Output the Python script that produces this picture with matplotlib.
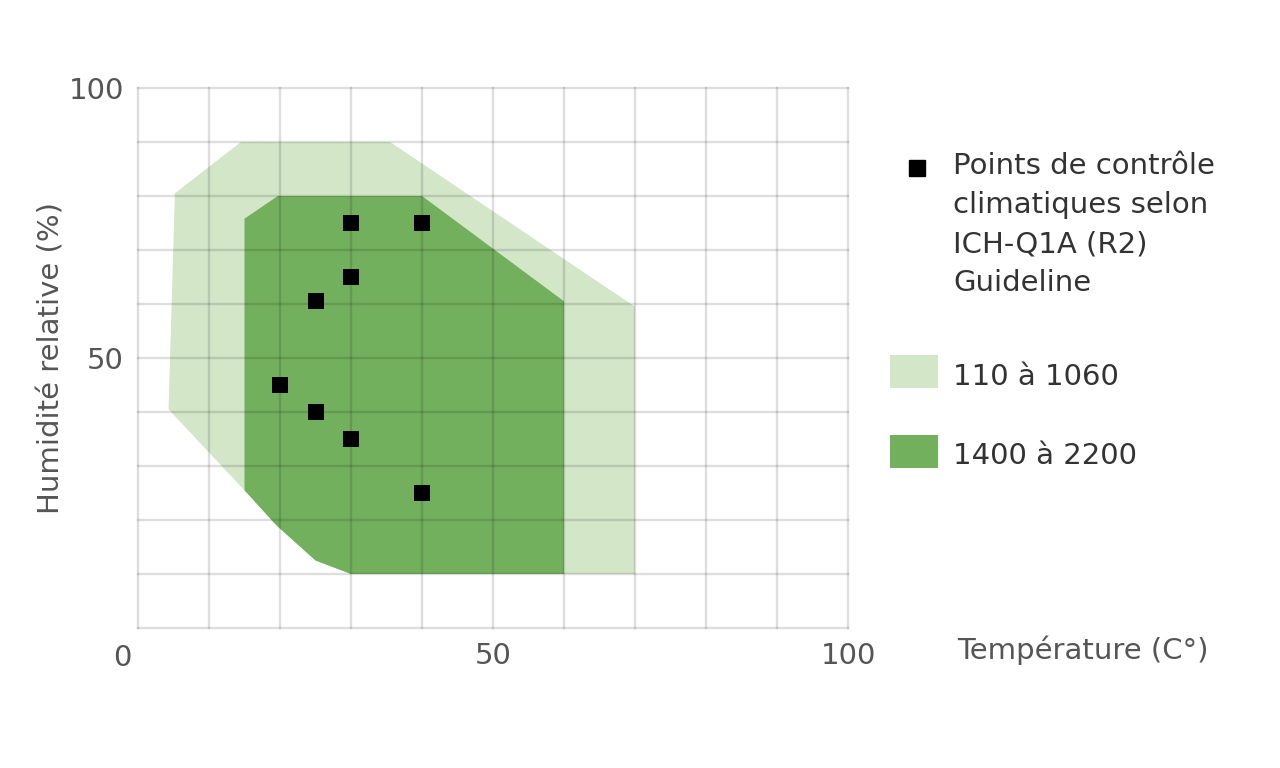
import matplotlib
matplotlib.use("Agg")
import matplotlib.pyplot as plt
from matplotlib.patches import Polygon, Rectangle
from matplotlib.lines import Line2D
import numpy as np

# zone 110 a 1060 (light green)
light_temp = [5.2, 14.5, 35.5, 70.0, 70.0, 30.0, 25.0, 19.5, 15.0, 4.3]
light_hum = [80.5, 90.0, 90.0, 59.5, 10.0, 10.0, 12.5, 19.0, 25.5, 40.5]

# zone 1400 a 2200 (dark green)
dark_temp = [15.0, 19.7, 40.0, 60.0, 60.0, 30.0, 25.0, 19.5, 15.0]
dark_hum = [75.8, 80.0, 80.0, 60.5, 10.0, 10.0, 12.5, 19.0, 25.5]

# ICH-Q1A control points
pts_temp = [30, 40, 30, 25, 20, 25, 30, 40]
pts_hum = [75, 75, 65, 60.5, 45, 40, 35, 25]

light_color = "#d3e6c8"
dark_color = "#72b05e"
text_color = "#555555"
fs = 21

fig = plt.figure(figsize=(12.8, 7.68), dpi=100)
ax = fig.add_axes([138 / 1280, 1 - 628 / 768, 710 / 1280, 540 / 768])

ax.add_patch(Polygon(np.column_stack([light_temp, light_hum]), closed=True,
                     facecolor=light_color, edgecolor="none", zorder=1))
ax.add_patch(Polygon(np.column_stack([dark_temp, dark_hum]), closed=True,
                     facecolor=dark_color, edgecolor="none", zorder=1.1))

# grid drawn over the zones, semi transparent so it darkens on green
for v in range(0, 101, 10):
    ax.axvline(v, color="black", alpha=0.13, lw=1.7, zorder=2, clip_on=False)
    ax.axhline(v, color="black", alpha=0.13, lw=1.7, zorder=2, clip_on=False)

ax.scatter(pts_temp, pts_hum, marker="s", s=140, color="black", zorder=3, linewidths=0)

ax.set_xlim(0, 100)
ax.set_ylim(0, 100)
for s in ax.spines.values():
    s.set_visible(False)
ax.set_xticks([50, 100])
ax.set_yticks([50, 100])
ax.tick_params(length=0, labelsize=fs, colors=text_color, pad=10)
ax.text(-16 / 7.1, -3.0, "0", fontsize=fs, color=text_color, ha="center", va="top")

ax.set_ylabel("Humidité relative (%)", fontsize=fs, color=text_color, labelpad=2)
fig.text(957 / 1280, 1 - 650 / 768, "Température (C°)", fontsize=fs,
         color=text_color, ha="left", va="center")

# legend
fig.add_artist(Line2D([917 / 1280], [1 - 168 / 768], marker="s", markersize=12,
                      color="black", linestyle="none", transform=fig.transFigure))
fig.text(953 / 1280, 1 - 152 / 768,
         "Points de contrôle\nclimatiques selon\nICH-Q1A (R2)\nGuideline",
         fontsize=fs, color="#333333", ha="left", va="top", linespacing=1.5)
fig.add_artist(Rectangle((890 / 1280, 1 - 388 / 768), 48 / 1280, 33 / 768,
                         facecolor=light_color, edgecolor="none",
                         transform=fig.transFigure))
fig.text(953 / 1280, 1 - 377 / 768, "110 à 1060", fontsize=fs, color="#333333",
         ha="left", va="center")
fig.add_artist(Rectangle((890 / 1280, 1 - 468 / 768), 48 / 1280, 33 / 768,
                         facecolor=dark_color, edgecolor="none",
                         transform=fig.transFigure))
fig.text(953 / 1280, 1 - 456 / 768, "1400 à 2200", fontsize=fs, color="#333333",
         ha="left", va="center")

fig.savefig("out.png", dpi=100)
